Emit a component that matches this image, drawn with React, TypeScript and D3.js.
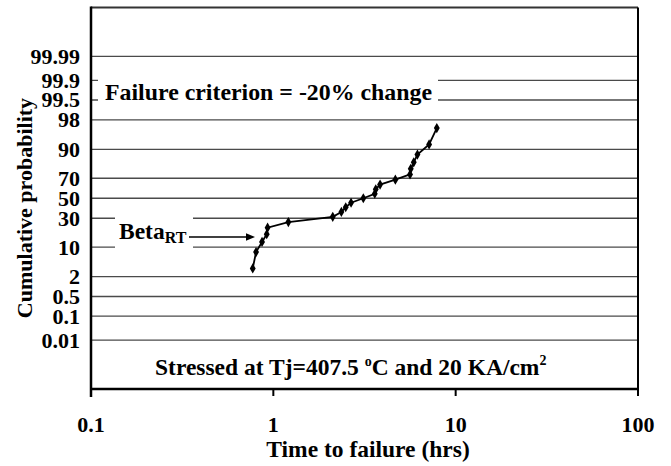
import React, { useEffect, useRef } from "react";
import * as d3 from "d3";

// failure times (hrs) and cumulative probability (%)
const timeHrs = [
  0.771, 0.804, 0.867, 0.92, 0.93, 1.209, 2.118, 2.361, 2.495, 2.669, 3.116,
  3.6, 3.645, 3.85, 4.67, 5.62, 5.67, 5.89, 6.17, 7.15, 7.88,
];
const cumProb = [
  3.3, 7.9, 12.6, 17.3, 22.0, 26.6, 31.3, 36.0, 40.7, 45.3, 50.0, 54.7, 59.3,
  64.0, 68.7, 73.4, 78.0, 82.7, 87.4, 92.1, 96.7,
];
const probTicks = [0.01, 0.1, 0.5, 2, 10, 30, 50, 70, 90, 98, 99.5, 99.9, 99.99];
const timeTicks = [0.1, 1, 10, 100];

// inverse of the standard normal cdf (Acklam)
const probit = (p: number) => {
  const a = [-39.69683028665376, 220.9460984245205, -275.9285104469687, 138.357751867269, -30.66479806614716, 2.506628277459239];
  const b = [-54.47609879822406, 161.5858368580409, -155.6989798598866, 66.80131188771972, -13.28068155288572];
  const c = [-0.007784894002430293, -0.3223964580411365, -2.400758277161838, -2.549732539343734, 4.374664141464968, 2.938163982698783];
  const d = [0.007784695709041462, 0.3224671290700398, 2.445134137142996, 3.754408661907416];
  const pl = 0.02425;
  let q, r;
  if (p < pl) {
    q = Math.sqrt(-2 * Math.log(p));
    return (((((c[0] * q + c[1]) * q + c[2]) * q + c[3]) * q + c[4]) * q + c[5]) /
      ((((d[0] * q + d[1]) * q + d[2]) * q + d[3]) * q + 1);
  }
  if (p > 1 - pl) {
    q = Math.sqrt(-2 * Math.log(1 - p));
    return -(((((c[0] * q + c[1]) * q + c[2]) * q + c[3]) * q + c[4]) * q + c[5]) /
      ((((d[0] * q + d[1]) * q + d[2]) * q + d[3]) * q + 1);
  }
  q = p - 0.5;
  r = q * q;
  return ((((((a[0] * r + a[1]) * r + a[2]) * r + a[3]) * r + a[4]) * r + a[5]) * q) /
    (((((b[0] * r + b[1]) * r + b[2]) * r + b[3]) * r + b[4]) * r + 1);
};

const FONT = '"Liberation Serif", "Times New Roman", Times, serif';

const App = () => {
  const ref = useRef<SVGSVGElement>(null);

  useEffect(() => {
    const left = 91, right = 638, top = 7.5, bottom = 389;

    const x = d3.scaleLog().domain([0.1, 100]).range([left, right]);
    const z = d3.scaleLinear().domain([-5, 5]).range([bottom, top]);
    const y = (pct: number) => z(probit(pct / 100));

    const svg = d3.select(ref.current);
    svg.selectAll("*").remove();
    svg.style("font-family", FONT).style("font-weight", "bold");

    // gridlines
    svg.selectAll(".grid")
      .data(probTicks)
      .enter()
      .append("line")
      .attr("x1", left)
      .attr("x2", right)
      .attr("y1", (d) => y(d))
      .attr("y2", (d) => y(d))
      .attr("stroke", "#4a4a4a")
      .attr("stroke-width", 1.3);

    // white boxes behind the annotations
    svg.append("rect").attr("x", 98).attr("y", 75).attr("width", 340).attr("height", 32).attr("fill", "#fff");
    svg.append("rect").attr("x", 115).attr("y", 211).attr("width", 78).attr("height", 44).attr("fill", "#fff");

    // frame
    svg.append("line").attr("x1", left).attr("x2", right).attr("y1", top).attr("y2", top)
      .attr("stroke", "#333").attr("stroke-width", 2);
    svg.append("line").attr("x1", right).attr("x2", right).attr("y1", top).attr("y2", bottom + 7)
      .attr("stroke", "#000").attr("stroke-width", 2);
    svg.append("line").attr("x1", left).attr("x2", left).attr("y1", top - 1).attr("y2", bottom + 8)
      .attr("stroke", "#000").attr("stroke-width", 2.5);
    svg.append("line").attr("x1", left).attr("x2", right).attr("y1", bottom).attr("y2", bottom)
      .attr("stroke", "#000").attr("stroke-width", 2.5);

    // x ticks
    svg.selectAll(".xtick")
      .data(timeTicks.slice(1, 3))
      .enter()
      .append("line")
      .attr("x1", (d) => x(d))
      .attr("x2", (d) => x(d))
      .attr("y1", bottom)
      .attr("y2", bottom + 7)
      .attr("stroke", "#000")
      .attr("stroke-width", 2);

    svg.selectAll(".xlabel")
      .data(timeTicks)
      .enter()
      .append("text")
      .attr("x", (d) => x(d))
      .attr("y", 432)
      .attr("text-anchor", "middle")
      .style("font-size", "22px")
      .text((d) => String(d));

    svg.selectAll(".ylabel")
      .data(probTicks)
      .enter()
      .append("text")
      .attr("x", 80)
      .attr("y", (d) => y(d) + 7.5)
      .attr("text-anchor", "end")
      .style("font-size", "22px")
      .text((d) => String(d));

    // axis titles
    svg.append("text")
      .attr("transform", "translate(32,208) rotate(-90)")
      .attr("text-anchor", "middle")
      .style("font-size", "22px")
      .text("Cumulative probability");

    svg.append("text")
      .attr("x", 368)
      .attr("y", 457)
      .attr("text-anchor", "middle")
      .style("font-size", "23.5px")
      .text("Time to failure (hrs)");

    // data line + diamonds
    const pts = timeHrs.map((t, i) => [x(t), y(cumProb[i])] as [number, number]);
    svg.append("path")
      .attr("d", d3.line()(pts))
      .attr("fill", "none")
      .attr("stroke", "#000")
      .attr("stroke-width", 1.8);

    svg.selectAll(".pt")
      .data(pts)
      .enter()
      .append("path")
      .attr("transform", (d) => `translate(${d[0]},${d[1]})`)
      .attr("d", d3.symbol().type(d3.symbolDiamond).size(30)())
      .attr("fill", "#000");

    // annotations
    svg.append("text")
      .attr("x", 105)
      .attr("y", 99.5)
      .style("font-size", "23.5px")
      .attr("textLength", 327)
      .attr("lengthAdjust", "spacingAndGlyphs")
      .text("Failure criterion = -20% change");

    const beta = svg.append("text")
      .attr("x", 119)
      .attr("y", 238.5)
      .style("font-size", "23.5px");
    beta.append("tspan").text("Beta");
    beta.append("tspan").style("font-size", "16px").attr("dy", 4).text("RT");

    svg.append("line")
      .attr("x1", 189).attr("x2", 247)
      .attr("y1", 237).attr("y2", 237)
      .attr("stroke", "#000").attr("stroke-width", 1.5);
    svg.append("path")
      .attr("d", "M246,233.2 L255,237 L246,240.8 Z")
      .attr("fill", "#000");

    const stress = svg.append("text")
      .attr("x", 155)
      .attr("y", 375)
      .style("font-size", "23.5px");
    stress.append("tspan").text("Stressed at Tj=407.5 ");
    stress.append("tspan").style("font-size", "14px").attr("dy", -9).text("o");
    stress.append("tspan").attr("dy", 9).text("C and 20 KA/cm");
    stress.append("tspan").style("font-size", "14px").attr("dy", -10).text("2");
  }, []);

  return (
    <svg
      ref={ref}
      width={671}
      height={466}
      style={{ position: "absolute", left: 0, top: 0, background: "#fff" }}
    />
  );
};

export default App;
